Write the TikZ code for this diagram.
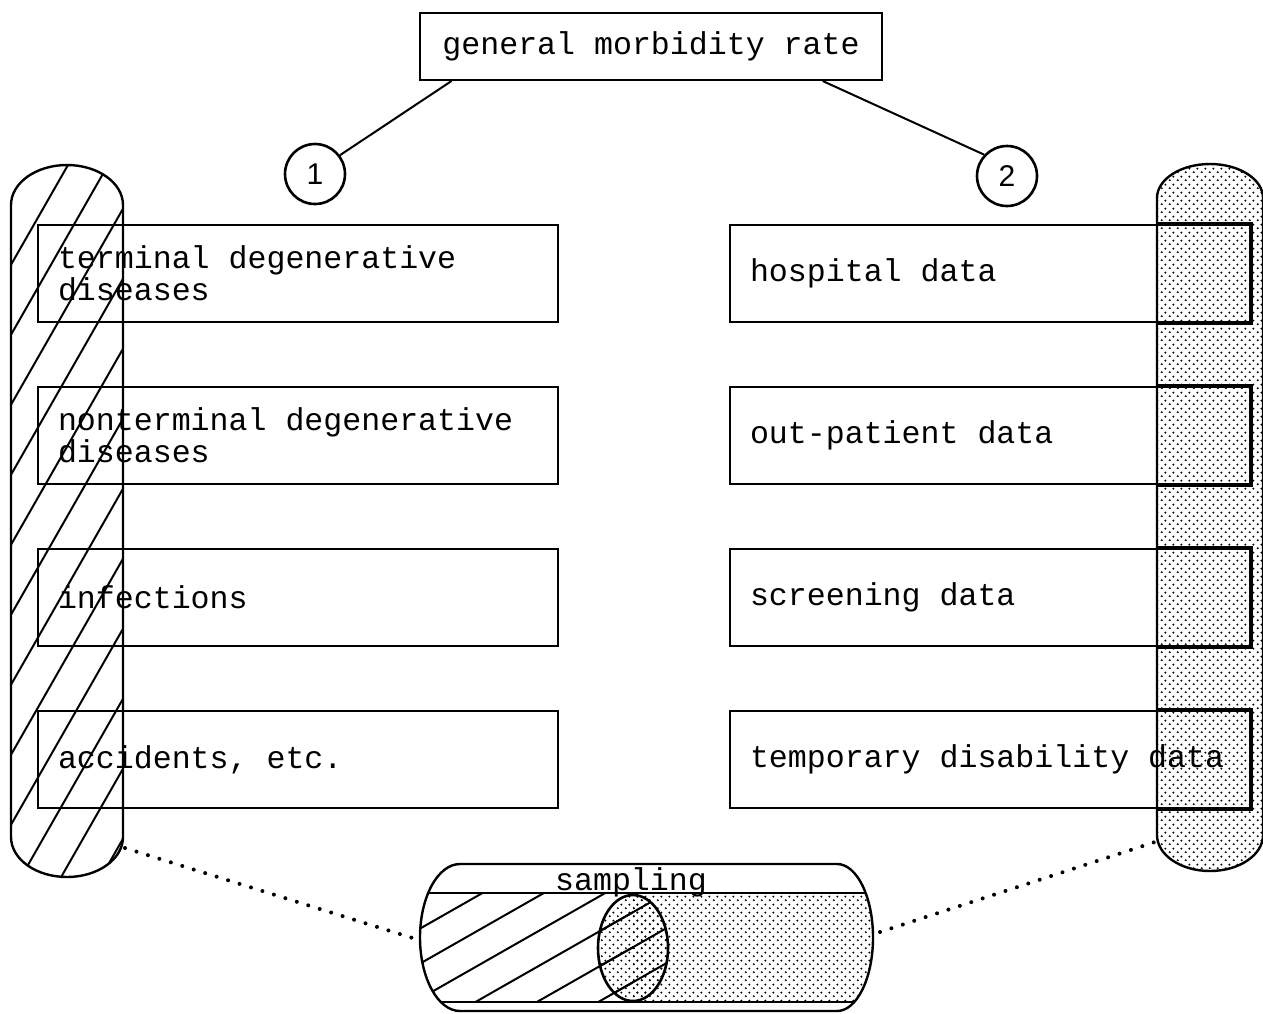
\documentclass[tikz,border=0pt]{standalone}
\usepackage{fontspec}
\setmonofont{Liberation Mono}
\newfontfamily\digitfont{Liberation Sans}
\usepackage{tikz}
\usetikzlibrary{positioning,calc,patterns}

\pgfdeclarepatternformonly{sparsedots}{\pgfqpoint{0pt}{0pt}}{\pgfqpoint{4pt}{4pt}}{\pgfqpoint{4pt}{4pt}}{%
  \pgfpathcircle{\pgfqpoint{1pt}{1pt}}{0.6pt}%
  \pgfpathcircle{\pgfqpoint{3pt}{3pt}}{0.6pt}%
  \pgfusepath{fill}}

\newcommand{\leftcap}{(11,205) -- (11,837) arc[start angle=180,end angle=360,x radius=28pt,y radius=20pt]
  -- (123,205) arc[start angle=0,end angle=180,x radius=28pt,y radius=20pt] -- cycle}
\newcommand{\rightcap}{(1157,198) -- (1157,835) arc[start angle=180,end angle=360,x radius=26.5pt,y radius=18pt]
  -- (1263,198) arc[start angle=0,end angle=180,x radius=26.5pt,y radius=17pt] -- cycle}
\newcommand{\samplecap}{(460,864) -- (837,864) arc[start angle=90,end angle=-90,x radius=18pt,y radius=36.75pt]
  -- (460,1011) arc[start angle=270,end angle=90,x radius=20pt,y radius=36.75pt] -- cycle}
\newcommand{\boxtext}[1]{\parbox{240pt}{\raggedright #1}}

\begin{document}
\begin{tikzpicture}[
    x=0.5pt, y=-0.5pt,
    node distance=31.5pt,
    mono/.style={font=\ttfamily\fontsize{15.8}{16}\selectfont},
    item/.style={mono, draw, line width=1pt, inner xsep=10pt, inner ysep=0pt, minimum height=48.5pt},
    topbox/.style={mono, draw, line width=1pt, minimum width=231pt, minimum height=33.5pt},
    num/.style={circle, draw, line width=1.3pt, minimum size=30pt, inner sep=0pt, font=\digitfont\fontsize{15}{15}\selectfont},
    hatch/.style={line width=1pt},
    dotlink/.style={line width=2pt, line cap=round, dash pattern=on 0pt off 6pt}
]
    \useasboundingbox (0,0) rectangle (1263,1013);

    % capsules
    \begin{scope}
        \clip \leftcap;
        \foreach \c in {144,214,...,1124}
            \draw[hatch] (0,\c) -- (140,\c-245);
    \end{scope}
    \draw[line width=1.2pt] \leftcap;
    \fill[pattern=sparsedots] \rightcap;
    \draw[line width=1.2pt] \rightcap;

    \node[topbox] (rate) at (651,46.5) {general morbidity rate};
    \node[num] (n1) at (315,174) {1};
    \node[num] (n2) at (1007,176) {2};

    \node[item, anchor=north west] (dis1) at (37,224) {\boxtext{terminal degenerative diseases}};
    \node[item, below=of dis1] (dis2) {\boxtext{nonterminal degenerative diseases}};
    \node[item, below=of dis2] (dis3) {\boxtext{infections}};
    \node[item, below=of dis3] (dis4) {\boxtext{accidents, etc.}};

    \node[item, anchor=north west] (src1) at (729,224) {\boxtext{hospital data}};
    \node[item, below=of src1] (src2) {\boxtext{out-patient data}};
    \node[item, below=of src2] (src3) {\boxtext{screening data}};
    \node[item, below=of src3] (src4) {\boxtext{temporary disability data}};

    \begin{scope}
        \clip \rightcap;
        \foreach \b in {src1,src2,src3,src4}
            \draw[line width=2pt] (\b.north west) rectangle (\b.south east);
    \end{scope}

    \draw[line width=1pt] ($(rate.south west)!0.07!(rate.south east)$) -- (n1.37);
    \draw[line width=1pt] ($(rate.south west)!0.87!(rate.south east)$) -- (n2.137);

    % sampling
    \begin{scope}
        \clip \samplecap;
        \begin{scope}
            \clip (400,893) rectangle (633,1002);
            \foreach \c in {1133,1168,...,1413}
                \draw[hatch] (400,\c-228) -- (700,\c-399);
        \end{scope}
        \fill[pattern=sparsedots] (633,893) rectangle (900,1002);
        \fill[pattern=sparsedots] (633,948) ellipse [x radius=17.5pt, y radius=26.5pt];
        \begin{scope}
            \clip (633,948) ellipse [x radius=17.5pt, y radius=26.5pt];
            \foreach \c in {1133,1168,...,1413}
                \draw[hatch] (400,\c-228) -- (700,\c-399);
        \end{scope}
        \draw[line width=1pt] (400,893) -- (900,893);
        \draw[line width=1pt] (400,1002) -- (900,1002);
    \end{scope}
    \draw[line width=1.2pt] \samplecap;
    \draw[line width=1.3pt] (633,948) ellipse [x radius=17.5pt, y radius=26.5pt];
    \node[mono, anchor=base, inner sep=0pt] (samp) at (631,890) {sampling};

    \coordinate (lend) at (125,848);
    \coordinate (sl) at (419,940);
    \coordinate (rend) at (1155,842);
    \coordinate (sr) at (880,932);
    \draw[dotlink] (lend) -- (sl);
    \draw[dotlink] (sr) -- (rend);
\end{tikzpicture}
\end{document}
